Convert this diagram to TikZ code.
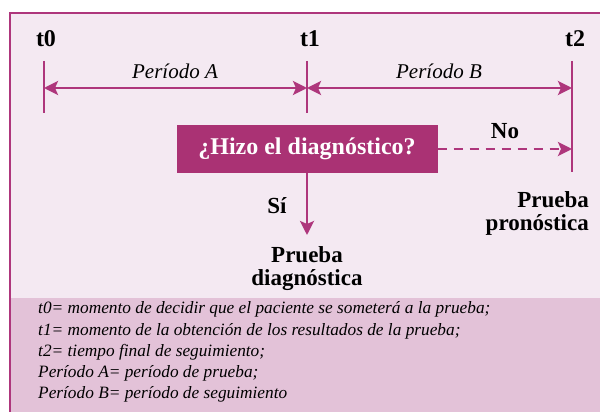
\documentclass[tikz,border=0pt]{standalone}
\usepackage{fontspec}
\setmainfont{Liberation Serif}
\usetikzlibrary{arrows.meta,positioning}
\definecolor{plum}{RGB}{174,54,124}
\definecolor{boxplum}{RGB}{170,50,116}
\definecolor{bgtop}{RGB}{244,233,242}
\definecolor{bgbottom}{RGB}{227,194,216}
\def\ArrowY{88}
\def\TickTop{61}

\begin{document}
\begin{tikzpicture}[x=1pt,y=-1pt,
	tick/.style={draw=plum,line width=2.6pt},
	span/.style={draw=plum,line width=2.6pt,{Stealth[length=14pt,width=14pt,inset=3pt]}-{Stealth[length=14pt,width=14pt,inset=3pt]}},
	go/.style={draw=plum,line width=2.6pt,-{Stealth[length=14pt,width=14pt,inset=3pt]}},
	timelabel/.style={font=\fontsize{24}{24}\selectfont\bfseries,inner sep=0pt,anchor=base},
	periodlabel/.style={font=\fontsize{21}{21}\selectfont\itshape,inner sep=0pt,anchor=base},
	answer/.style={font=\fontsize{23}{23}\selectfont\bfseries,inner sep=0pt,align=center},
	question/.style={fill=boxplum,text=white,font=\fontsize{24}{24}\selectfont\bfseries,minimum width=261pt,minimum height=48pt,inner sep=0pt},
	legendline/.style={font=\fontsize{17.3}{17.3}\selectfont\itshape,inner sep=0pt,anchor=base west}]
	\useasboundingbox (0,0) rectangle (600,412);
	% background panels and frame
	\fill[bgtop] (10,13) rectangle (600,298);
	\fill[bgbottom] (10,298) rectangle (600,412);
	\draw[plum,line width=2pt] (10,412) |- (600,13);
	% time marks
	\coordinate (a0) at (44,\TickTop);
	\coordinate (e0) at (44,113);
	\coordinate (a1) at (307,\TickTop);
	\coordinate (e1) at (307,113);
	\coordinate (a2) at (572,\TickTop);
	\coordinate (e2) at (572,172);
	\coordinate (m0) at (44,\ArrowY);
	\coordinate (m1) at (307,\ArrowY);
	\coordinate (m2) at (572,\ArrowY);
	\draw[tick] (a0) -- (e0);
	\draw[tick] (a1) -- (e1);
	\draw[tick] (a2) -- (e2);
	\node[timelabel] (t0) at (46,47) {t0};
	\node[timelabel] (t1) at (310,47) {t1};
	\node[timelabel] (t2) at (575,47) {t2};
	% periods
	\draw[span] (m0) -- (m1);
	\draw[span] (m1) -- (m2);
	\node[periodlabel] (pa) at (175,78) {Período A};
	\node[periodlabel] (pb) at (439,78) {Período B};
	% decision
	\node[question] (q) at (307,149) {¿Hizo el diagnóstico?};
	\coordinate (qe) at (572,149);
	\draw[go,dashed,dash pattern=on 9pt off 7pt] (q.east) -- (qe);
	\node[answer,anchor=base] (no) at (505,138) {No};
	\coordinate (qs) at (307,235);
	\draw[go] (q.south) -- (qs);
	\node[answer,anchor=base] (si) at (277,213) {Sí};
	\node[answer,below=11pt of qs] (diag) {Prueba\\diagnóstica};
	\node[answer,align=right,anchor=north east] (pron) at (589,191) {Prueba\\pronóstica};
	% legend
	\node[legendline] (l1) at (38,313) {t0= momento de decidir que el paciente se someterá a la prueba;};
	\node[legendline] (l2) at (38,335) {t1= momento de la obtención de los resultados de la prueba;};
	\node[legendline] (l3) at (38,356) {t2= tiempo final de seguimiento;};
	\node[legendline] (l4) at (38,377) {Período A= período de prueba;};
	\node[legendline] (l5) at (38,398) {Período B= período de seguimiento};
\end{tikzpicture}
\end{document}
